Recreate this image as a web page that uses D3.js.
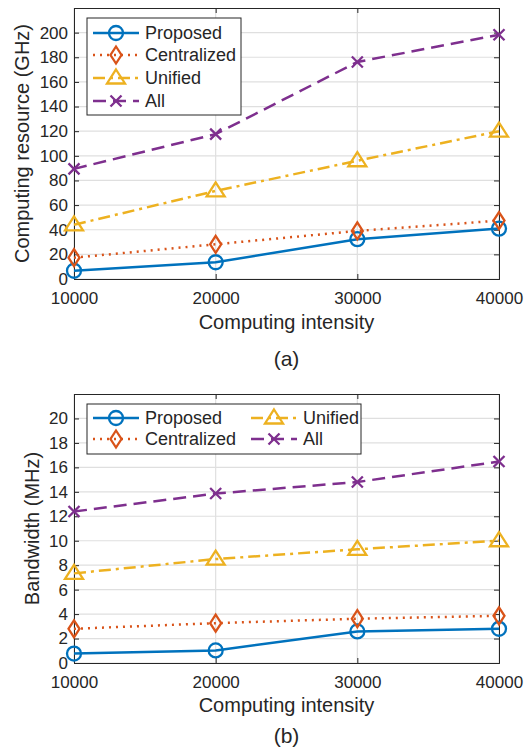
<!DOCTYPE html>
<html><head><meta charset="utf-8">
<script src="https://cdn.jsdelivr.net/npm/d3@7"></script>
<style>body{margin:0;background:#fff}svg{display:block}text{font-family:"Liberation Sans",Arial,sans-serif;fill:#262626}</style>
</head><body><svg id="c" width="524" height="753"></svg>
<script>
const intensity = [10000, 20000, 30000, 40000];
const seriesNames = ["Proposed", "Centralized", "Unified", "All"];
const compProposed = [6.7, 13.6, 32.3, 40.9];
const compCentralized = [17.3, 28.2, 39, 47.4];
const compUnified = [44, 71.5, 96, 120];
const compAll = [89.4, 117.6, 176.2, 198.3];
const bwProposed = [0.77, 1.03, 2.58, 2.8];
const bwCentralized = [2.8, 3.26, 3.62, 3.86];
const bwUnified = [7.33, 8.5, 9.3, 10.0];
const bwAll = [12.39, 13.86, 14.8, 16.48];
const compTicks = [0,20,40,60,80,100,120,140,160,180,200];
const bwTicks = [0,2,4,6,8,10,12,14,16,18,20];

const colors = ["#0072BD","#D95319","#EDB120","#7E2F8E"];
const dashes = [null, "2,5", "12,5,3,5", "13,7"];
const markers = ["circle","diamond","triangle","x"];

const svg = d3.select("#c");

function marker(g, type, x, y, color){
  const sw = 2.3;
  if(type==="circle"){
    g.append("circle").attr("cx",x).attr("cy",y).attr("r",7).attr("fill","none").attr("stroke",color).attr("stroke-width",sw);
  } else if(type==="diamond"){
    g.append("path").attr("d",`M${x},${y-8.5}L${x+5.5},${y}L${x},${y+8.5}L${x-5.5},${y}Z`).attr("fill","none").attr("stroke",color).attr("stroke-width",sw);
  } else if(type==="triangle"){
    g.append("path").attr("d",`M${x},${y-8.5}L${x+9},${y+5.5}L${x-9},${y+5.5}Z`).attr("fill","none").attr("stroke",color).attr("stroke-width",sw);
  } else {
    const s=5.5;
    g.append("path").attr("d",`M${x-s},${y-s}L${x+s},${y+s}M${x-s},${y+s}L${x+s},${y-s}`).attr("fill","none").attr("stroke",color).attr("stroke-width",sw);
  }
}

function panel(cfg){
  const {top,bottom,left,right,ymax,yticks,data,ylabel,ylabelX,xLabelY,capY,cap,legend} = cfg;
  const x = d3.scaleLinear().domain([10000,40000]).range([left,right]);
  const y = d3.scaleLinear().domain([0,ymax]).range([bottom,top]);
  const g = svg.append("g");
  g.append("g").selectAll("line").data(yticks).join("line")
    .attr("x1",left).attr("x2",right).attr("y1",d=>y(d)).attr("y2",d=>y(d))
    .attr("stroke","#dfdfdf").attr("stroke-width",1.2);
  g.append("g").selectAll("line").data(intensity).join("line")
    .attr("y1",top).attr("y2",bottom).attr("x1",d=>x(d)).attr("x2",d=>x(d))
    .attr("stroke","#dfdfdf").attr("stroke-width",1.2);
  const ax = d3.axisBottom(x).tickValues(intensity).tickFormat(d3.format("d")).tickSize(-5).tickPadding(13);
  const axT = d3.axisTop(x).tickValues(intensity).tickFormat("").tickSize(-5);
  const ay = d3.axisLeft(y).tickValues(yticks).tickSize(-5).tickPadding(6);
  const ayR = d3.axisRight(y).tickValues(yticks).tickFormat("").tickSize(-5);
  function style(sel){
    sel.selectAll("path").attr("stroke","#262626").attr("stroke-width",1);
    sel.selectAll("line").attr("stroke","#262626").attr("stroke-width",1);
    sel.selectAll("text").attr("font-size",17).attr("fill","#262626").style("font-family","Liberation Sans, Arial, sans-serif");
  }
  g.append("g").attr("transform",`translate(0,${bottom})`).call(ax).call(style);
  g.append("g").attr("transform",`translate(0,${top})`).call(axT).call(style);
  g.append("g").attr("transform",`translate(${left},0)`).call(ay).call(style);
  g.append("g").attr("transform",`translate(${right},0)`).call(ayR).call(style);
  const line = d3.line().x((d,i)=>x(intensity[i])).y(d=>y(d));
  data.forEach((vals,k)=>{
    g.append("path").attr("d",line(vals)).attr("fill","none").attr("stroke",colors[k])
      .attr("stroke-width",2.5).attr("stroke-dasharray",dashes[k]);
    vals.forEach((v,i)=>marker(g,markers[k],x(intensity[i]),y(v),colors[k]));
  });
  g.append("text").attr("transform",`translate(${ylabelX},${(top+bottom)/2}) rotate(-90)`)
    .attr("text-anchor","middle").attr("dominant-baseline","central").attr("font-size",20).text(ylabel);
  g.append("text").attr("x",(left+right)/2).attr("y",xLabelY).attr("text-anchor","middle")
    .attr("dominant-baseline","central").attr("font-size",20).text("Computing intensity");
  g.append("text").attr("x",(left+right)/2).attr("y",capY).attr("text-anchor","middle")
    .attr("dominant-baseline","central").attr("font-size",21).text(cap);
  const L = legend;
  g.append("rect").attr("x",L.x).attr("y",L.y).attr("width",L.w).attr("height",L.h)
    .attr("fill","#fff").attr("stroke","#262626").attr("stroke-width",1);
  L.items.forEach((it,k)=>{
    const lg = g.append("g");
    lg.append("line").attr("x1",it.x).attr("x2",it.x+46).attr("y1",it.y).attr("y2",it.y)
      .attr("stroke",colors[k]).attr("stroke-width",2.5).attr("stroke-dasharray",dashes[k]);
    marker(lg,markers[k],it.x+23,it.y,colors[k]);
    lg.append("text").attr("x",it.x+52).attr("y",it.y).attr("dominant-baseline","central")
      .attr("font-size",18).attr("fill","#000").text(seriesNames[k]);
  });
}

panel({top:8,bottom:279,left:74,right:499,ymax:220,yticks:compTicks,
  data:[compProposed,compCentralized,compUnified,compAll],
  ylabel:"Computing resource (GHz)",ylabelX:22,xLabelY:322,capY:358,cap:"(a)",
  legend:{x:87,y:18,w:154,h:97,items:[{x:93,y:33},{x:93,y:55},{x:93,y:78},{x:93,y:101}]}});

panel({top:394,bottom:663,left:74,right:499,ymax:22,yticks:bwTicks,
  data:[bwProposed,bwCentralized,bwUnified,bwAll],
  ylabel:"Bandwidth (MHz)",ylabelX:32,xLabelY:705,capY:735,cap:"(b)",
  legend:{x:87,y:404,w:274,h:50,items:[{x:93,y:418},{x:93,y:439},{x:251,y:418},{x:251,y:439}]}});
</script></body></html>
